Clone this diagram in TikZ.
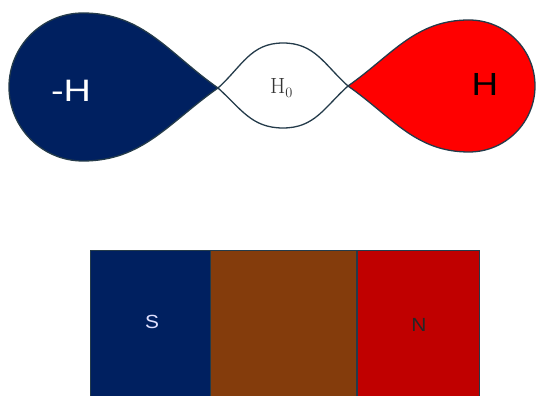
\documentclass[tikz,border=0pt]{standalone}
\usepackage{fontspec}
\setsansfont{Liberation Sans}
\definecolor{navy}{HTML}{002060}
\definecolor{rim}{HTML}{243B4A}
\definecolor{poleN}{HTML}{C00000}
\definecolor{rust}{HTML}{843C0C}
\begin{document}
\begin{tikzpicture}[x=1pt,y=1pt,
    rim line/.style={draw=rim,line width=1.3pt},
    pole/.style={font=\sffamily\fontsize{19}{19}\selectfont,xscale=1.1,transform shape}]
    \clip (0,0) rectangle (536,396);
    \coordinate (tipL) at (218,308);
    \coordinate (tipR) at (348,310);
    % the three field lobes
    \filldraw[fill=navy,rim line] (tipL) to[out=145,in=0] (83,383) arc[start angle=90,end angle=270,radius=74pt] to[out=0,in=215] (tipL);
    \filldraw[fill=red,rim line] (tipR) to[out=35,in=180] (469,376) arc[start angle=90,end angle=-90,radius=66pt] to[out=180,in=-35] (tipR);
    \filldraw[fill=white,rim line,looseness=1.05] (tipL) to[out=42,in=180] (283,353) to[out=0,in=138] (tipR) to[out=-138,in=0] (283,268) to[out=180,in=-42] (tipL);
    \node[text=white,font=\sffamily\fontsize{31}{31}\selectfont,xscale=1.22,transform shape] (minusH) at (71,305.5) {-H};
    \node[font=\sffamily\fontsize{32}{32}\selectfont,xscale=1.15,transform shape] (plusH) at (485,311.5) {H};
    \node[text=black!80,font=\fontsize{22}{22}\selectfont,inner sep=0pt,anchor=base west] (zeroH) at (270,302) {$\mathrm{H}_0$};
    % bar magnet
    \filldraw[fill=navy,draw=rim,line width=0.8pt] (90,-5) rectangle (210,146);
    \filldraw[fill=rust,draw=rim,line width=0.8pt] (210,-5) rectangle (357,146);
    \filldraw[fill=poleN,draw=rim,line width=0.8pt] (357,-5) rectangle (479,146);
    \draw[rim,line width=2.8pt] (357,-5) -- (357,146);
    \node[pole,text=white!88!blue] (south) at (152,74.5) {S};
    \node[pole,text=black!85] (north) at (419,71.5) {N};
\end{tikzpicture}
\end{document}
